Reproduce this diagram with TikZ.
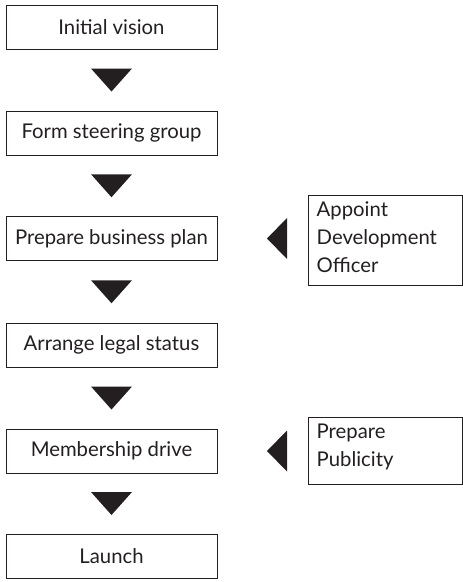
\documentclass[tikz,border=0pt]{standalone}
\usepackage{fontspec}
\setmainfont{Lato}
\usetikzlibrary{calc}
\definecolor{ink}{HTML}{231F20}
\tikzset{
  stepbox/.style={draw=ink, line width=1pt, minimum width=211pt, minimum height=44pt, inner sep=0pt, text=ink, font=\fontsize{20.3}{24}\selectfont},
  sidetext/.style={text=ink, font=\fontsize{20.3}{28}\selectfont, align=left, anchor=north west, inner sep=0pt},
  tri/.style={fill=ink, draw=none}
}
\begin{document}
\begin{tikzpicture}[x=1pt,y=-1pt]
\useasboundingbox (0,0) rectangle (463,582);
\node[stepbox] (b1) at (111.5,27) {Initial vision};
\node[stepbox] (b2) at (111.5,133) {Form steering group};
\node[stepbox] (b3) at (111.5,238.5) {Prepare business plan};
\node[stepbox] (b4) at (111.5,345) {Arrange legal status};
\node[stepbox] (b5) at (111.5,451) {Membership drive};
\node[stepbox] (b6) at (111.5,556) {Launch};
\node[draw=ink, line width=1pt, minimum width=154pt, minimum height=90pt, inner sep=0pt] (s1) at (385,240) {};
\node[draw=ink, line width=1pt, minimum width=154pt, minimum height=67pt, inner sep=0pt] (s2) at (385,450.5) {};
\node[sidetext] (t1) at ($(s1.north west)+(9,7)$) {Appoint\\Development\\Officer};
\node[sidetext] (t2) at ($(s2.north west)+(9,7)$) {Prepare\\Publicity};
\foreach \a/\b in {b1/b2,b2/b3,b3/b4,b4/b5,b5/b6}{
  \coordinate (m) at ($(\a.south)!0.5!(\b.north)$);
  \fill[tri] ($(m)+(-20.5,-11.5)$) -- ($(m)+(20.5,-11.5)$) -- ($(m)+(0,11.5)$) -- cycle;
}
\foreach \a/\b in {b3/s1,b5/s2}{
  \coordinate (m) at (277,0 |- \a.center);
  \fill[tri] ($(m)+(10,-20.5)$) -- ($(m)+(10,20.5)$) -- ($(m)+(-10,0)$) -- cycle;
}
\end{tikzpicture}
\end{document}
